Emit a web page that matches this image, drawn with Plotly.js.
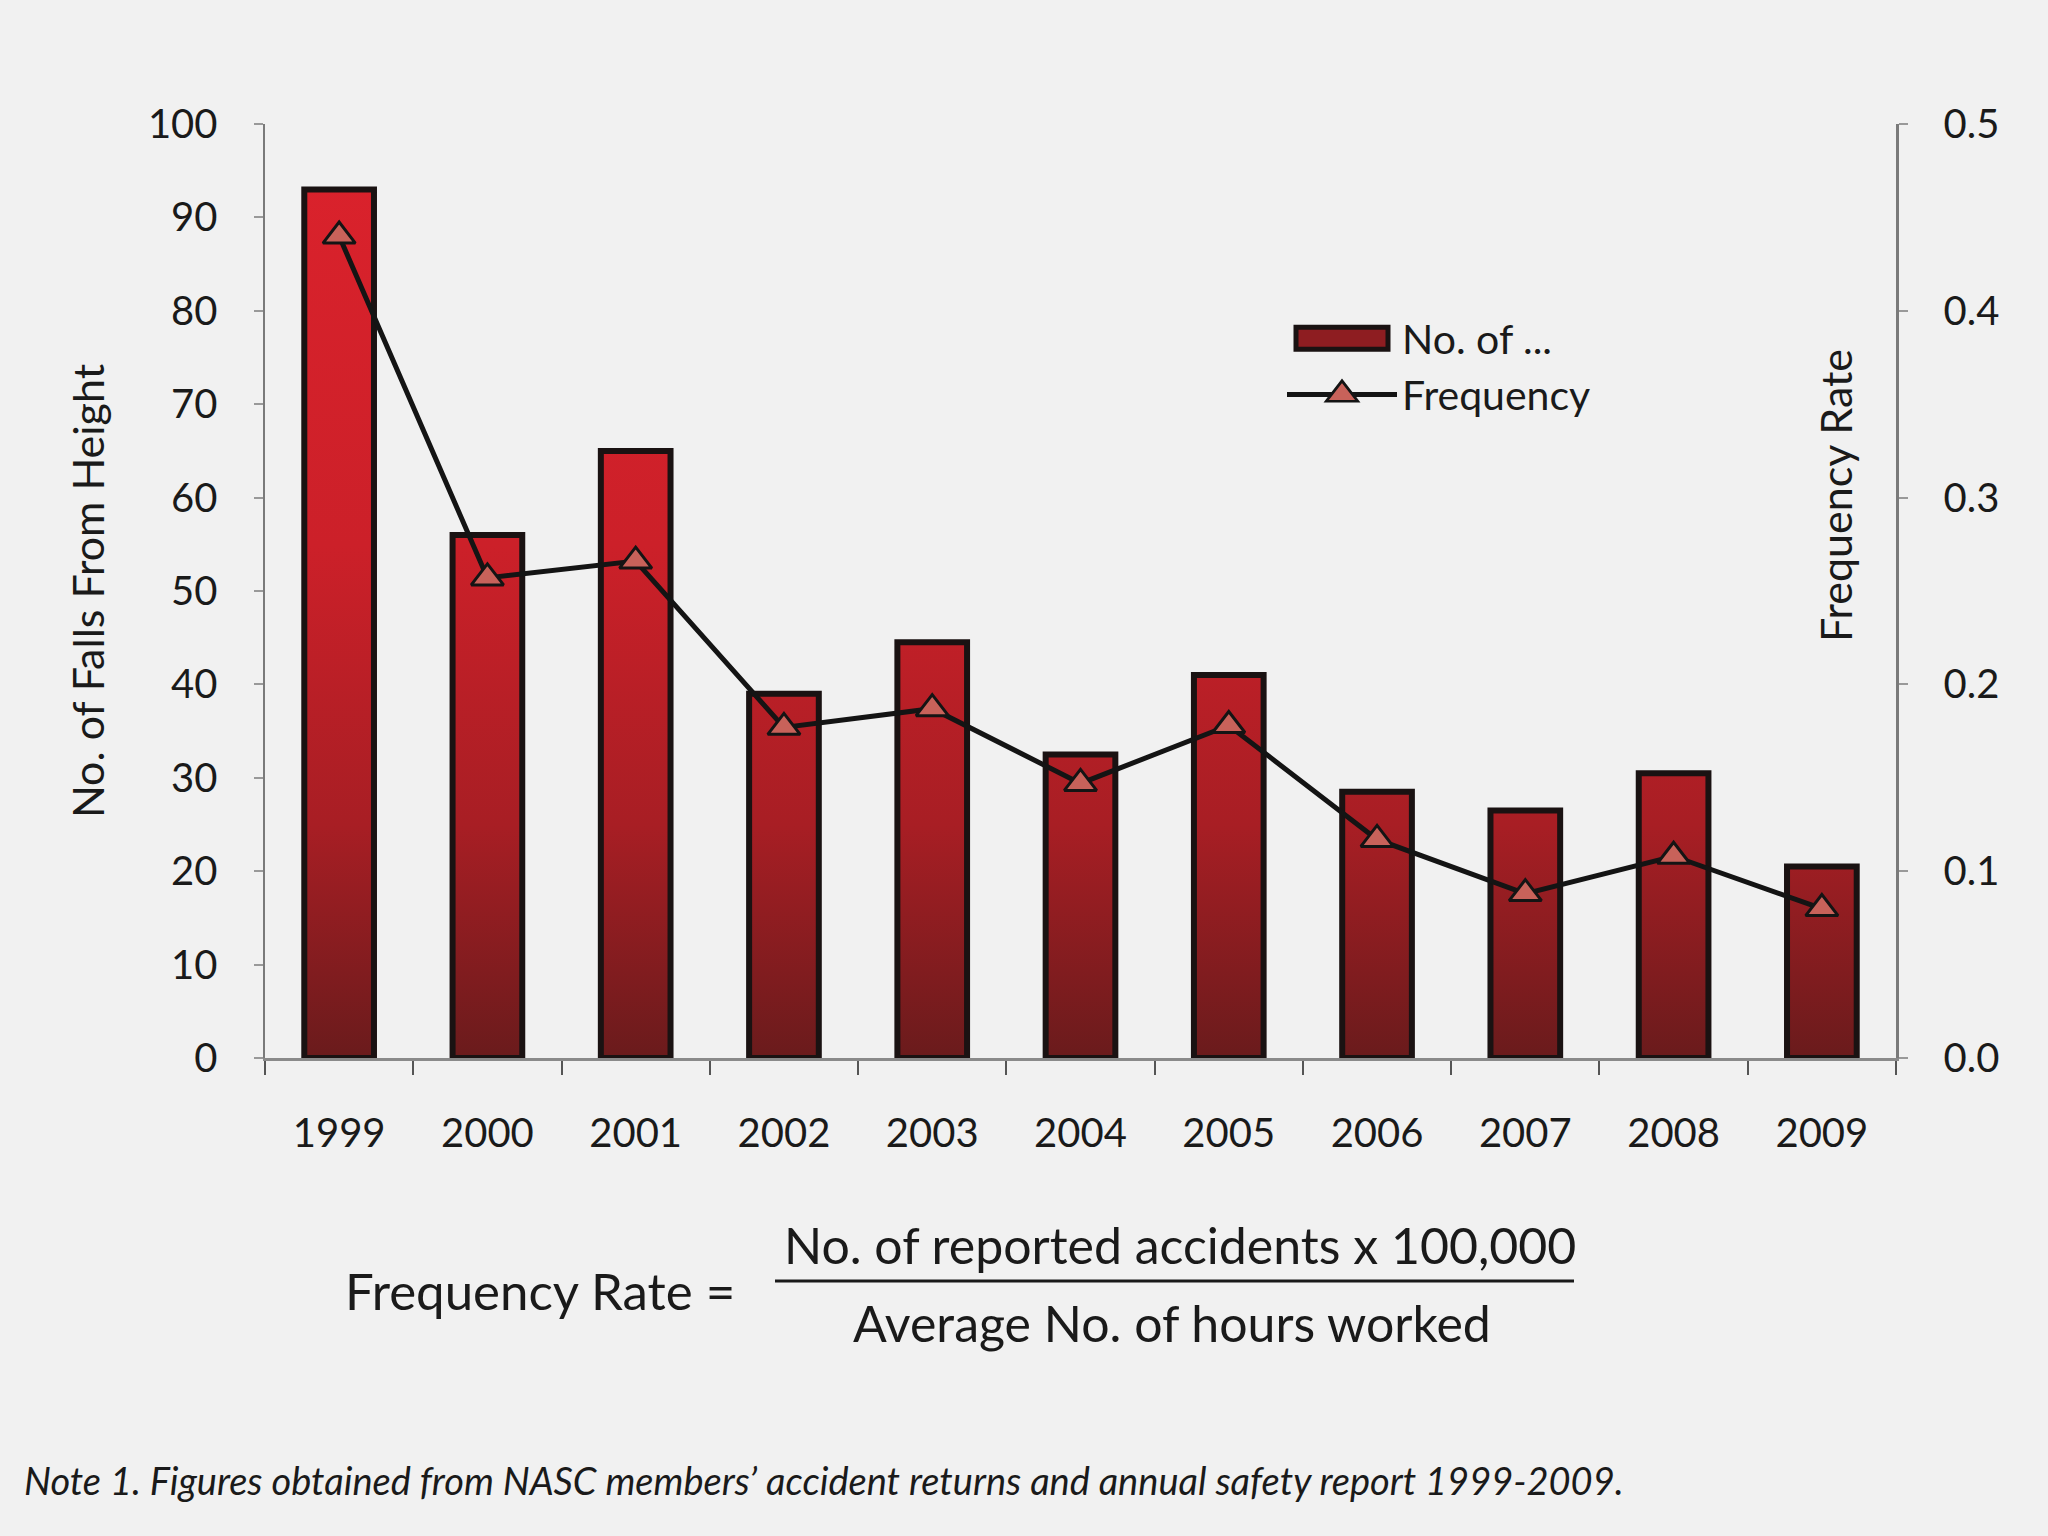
<!DOCTYPE html>
<html>
<head>
<meta charset="utf-8">
<script src="https://cdn.plot.ly/plotly-3.0.1.min.js"></script>
<style>
  html, body { margin: 0; padding: 0; background: #f1f1f1; }
  #chart { width: 2048px; height: 1536px; }
</style>
</head>
<body>
<div id="chart"></div>
<script>
// ---- data ----
const years = ['1999', '2000', '2001', '2002', '2003', '2004', '2005', '2006', '2007', '2008', '2009'];
const fallsFromHeight = [93, 56, 65, 39, 44.5, 32.5, 41, 28.5, 26.5, 30.5, 20.5];
const frequencyRate = [0.44, 0.257, 0.266, 0.177, 0.187, 0.147, 0.178, 0.117, 0.088, 0.108, 0.080];
const leftTicks = [0, 10, 20, 30, 40, 50, 60, 70, 80, 90, 100];
const rightTicks = [0.0, 0.1, 0.2, 0.3, 0.4, 0.5];

// ---- layout geometry (pixels) ----
const W = 2048, H = 1536;
const M = { l: 265, r: 152, t: 124, b: 478 };
const PW = W - M.l - M.r, PH = H - M.t - M.b;
const px = x => (x - M.l) / PW;      // pixel x -> paper x
const py = y => (H - M.b - y) / PH;  // pixel y -> paper y

const FONT = 'Lato, "Open Sans", sans-serif';
const INK = '#1a1a1a';

const data = [
  {
    type: 'bar',
    name: 'No. of ...',
    x: years,
    y: fallsFromHeight,
    width: 0.47,
    marker: { color: '#a51f25', line: { color: '#1a1212', width: 6 } },
    yaxis: 'y'
  },
  {
    type: 'scatter',
    mode: 'lines+markers',
    name: 'Frequency',
    x: years,
    y: frequencyRate,
    yaxis: 'y2',
    line: { color: '#141414', width: 5 },
    marker: { symbol: 'triangle-up', size: 28, color: '#c8625a', line: { color: '#141414', width: 3 } }
  }
];

const layout = {
  width: W, height: H,
  margin: M,
  paper_bgcolor: '#f1f1f1',
  plot_bgcolor: 'rgba(0,0,0,0)',
  font: { family: FONT, color: INK, size: 40 },
  showlegend: true,
  legend: {
    x: px(1282), y: py(305), xanchor: 'left', yanchor: 'top',
    bgcolor: 'rgba(0,0,0,0)',
    font: { family: FONT, size: 41, color: INK },
    tracegroupgap: 0,
    itemwidth: 110
  },
  xaxis: {
    type: 'category',
    range: [-0.5, 10.5],
    showgrid: false, zeroline: false,
    showline: true, linecolor: '#8a8a8a', linewidth: 3,
    ticks: 'outside', tickson: 'boundaries', ticklen: 14, tickwidth: 2, tickcolor: '#555',
    ticklabelstandoff: 38,
    tickfont: { family: FONT, size: 40, color: INK }
  },
  yaxis: {
    range: [0, 100],
    tickvals: leftTicks,
    showgrid: false, zeroline: false,
    showline: true, linecolor: '#7a7a7a', linewidth: 2.5,
    ticks: 'outside', ticklen: 9, tickwidth: 2, tickcolor: '#999',
    ticklabelstandoff: 28,
    tickfont: { family: FONT, size: 40, color: INK },
    title: { text: 'No. of Falls From Height', font: { family: FONT, size: 43, color: INK }, standoff: 30 }
  },
  yaxis2: {
    overlaying: 'y', side: 'right',
    range: [0, 0.5],
    tickvals: rightTicks,
    tickformat: '.1f',
    showgrid: false, zeroline: false,
    showline: true, linecolor: '#7a7a7a', linewidth: 2.5,
    ticks: 'outside', ticklen: 9, tickwidth: 2, tickcolor: '#999',
    ticklabelstandoff: 28,
    tickfont: { family: FONT, size: 40, color: INK }
  },
  shapes: [
    { type: 'line', xref: 'paper', yref: 'paper',
      x0: px(775), x1: px(1574), y0: py(1281), y1: py(1281),
      line: { color: '#1a1a1a', width: 3 } }
  ],
  annotations: [
    { xref: 'paper', yref: 'paper', x: px(1835), y: py(496), xanchor: 'center', yanchor: 'middle',
      text: 'Frequency Rate', textangle: -90, showarrow: false,
      font: { family: FONT, size: 43, color: INK } },
    { xref: 'paper', yref: 'paper', x: px(540), y: py(1290), xanchor: 'center', yanchor: 'middle',
      text: 'Frequency Rate =', showarrow: false,
      font: { family: FONT, size: 51, color: INK } },
    { xref: 'paper', yref: 'paper', x: px(1180), y: py(1245), xanchor: 'center', yanchor: 'middle',
      text: 'No. of reported accidents x 100,000', showarrow: false,
      font: { family: FONT, size: 50, color: INK } },
    { xref: 'paper', yref: 'paper', x: px(1172), y: py(1323), xanchor: 'center', yanchor: 'middle',
      text: 'Average No. of hours worked', showarrow: false,
      font: { family: FONT, size: 50, color: INK } },
    { xref: 'paper', yref: 'paper', x: px(22), y: py(1480), xanchor: 'left', yanchor: 'middle',
      text: '<i>Note 1. Figures obtained from NASC members\u2019 accident returns and annual safety report 1999-2009.</i>',
      showarrow: false,
      font: { family: FONT, size: 38, color: INK } }
  ]
};

Plotly.newPlot('chart', data, layout, { staticPlot: true, displayModeBar: false }).then(gd => {
  const ns = 'http://www.w3.org/2000/svg';
  const svg = gd.querySelector('.main-svg');
  let defs = svg.querySelector('defs');
  if (!defs) { defs = document.createElementNS(ns, 'defs'); svg.insertBefore(defs, svg.firstChild); }

  // vertical red gradient on bars (bright at top of plot, dark at the baseline)
  const h = gd._fullLayout._size.h;
  const grad = document.createElementNS(ns, 'linearGradient');
  grad.setAttribute('id', 'barGrad');
  grad.setAttribute('gradientUnits', 'userSpaceOnUse');
  grad.setAttribute('x1', '0'); grad.setAttribute('x2', '0');
  grad.setAttribute('y1', '0'); grad.setAttribute('y2', String(h));
  [['0', '#dc222c'], ['0.45', '#cc2029'], ['0.75', '#a81e24'], ['1', '#6a1b1c']].forEach(([o, c]) => {
    const s = document.createElementNS(ns, 'stop');
    s.setAttribute('offset', o); s.setAttribute('stop-color', c);
    grad.appendChild(s);
  });
  defs.appendChild(grad);
  gd.querySelectorAll('.barlayer .point path').forEach(p => { p.style.fill = 'url(#barGrad)'; });

  // widen legend symbols to match the reference (wide bar swatch, long line with centred triangle)
  const SW = 92, SH = 22, GAP = 14;
  gd.querySelectorAll('.legend .traces').forEach((item, i) => {
    const txt = item.querySelector('text.legendtext');
    if (!txt) return;
    const tL = txt.getBoundingClientRect().left;
    const targetCx = tL - GAP - SW / 2;
    if (i === 0) {
      const p = item.querySelector('.legendpoints path');
      if (!p) return;
      const sr = p.getBoundingClientRect(), lb = p.getBBox();
      const lcx = lb.x + lb.width / 2 + (targetCx - (sr.left + sr.width / 2));
      const lcy = lb.y + lb.height / 2;
      p.setAttribute('d', `M${lcx - SW / 2},${lcy - SH / 2}H${lcx + SW / 2}V${lcy + SH / 2}H${lcx - SW / 2}Z`);
      p.style.fill = '#8e1d21';
    } else {
      const ln = item.querySelector('.legendpoints .js-line');
      let mk = item.querySelector('.legendpoints path.scatterpts') ||
               item.querySelector('.legendpoints .scatterpts path') ||
               item.querySelector('.legendpoints path.point');
      if (ln) {
        const sr = ln.getBoundingClientRect(), lb = ln.getBBox();
        const lcx = lb.x + lb.width / 2 + (targetCx - (sr.left + sr.width / 2));
        ln.setAttribute('d', `M${lcx - SW / 2 - 3},0h${SW + 6}`);
      }
      if (mk) {
        const sr = mk.getBoundingClientRect();
        const dx = targetCx - (sr.left + sr.width / 2);
        const t = mk.getAttribute('transform') || '';
        const m = /translate\(\s*([-\d.]+)[ ,]+([-\d.]+)\s*\)/.exec(t);
        const ox = m ? parseFloat(m[1]) : 0, oy = m ? parseFloat(m[2]) : 0;
        mk.setAttribute('transform', `translate(${ox + dx},${oy}) scale(1.7)`);
        mk.style.strokeWidth = '1.6px';
      }
    }
  });
});
</script>
</body>
</html>
